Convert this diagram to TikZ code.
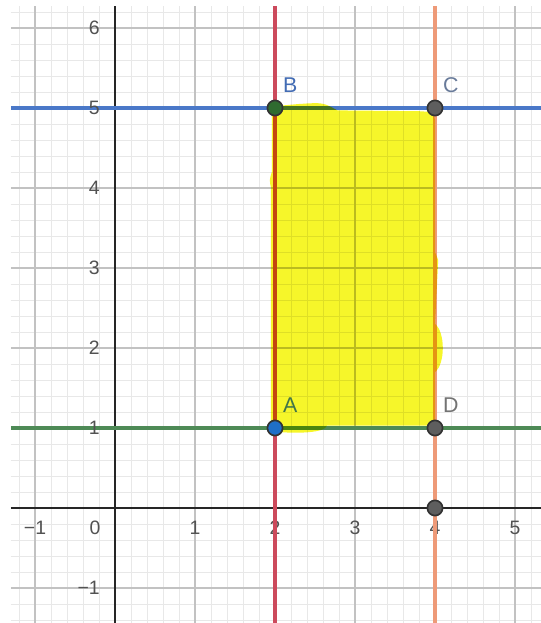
\documentclass[tikz,border=0pt]{standalone}
\usepackage{fontspec}
\setmainfont{Liberation Sans}
\usetikzlibrary{positioning}
\definecolor{lnRed}{HTML}{CC4A5C}
\definecolor{lnOrange}{HTML}{EE9A78}
\definecolor{lnBlue}{HTML}{4A78C8}
\definecolor{lnGreen}{HTML}{4E8A56}
\definecolor{hiYellow}{HTML}{F6F62A}
\definecolor{ptBlue}{HTML}{1F6FC8}
\definecolor{ptGreen}{HTML}{2F6B30}
\definecolor{ptGray}{HTML}{5E5E5E}

\begin{document}
\begin{tikzpicture}[
    minorgrid/.style={draw=black!9, line width=0.3pt},
    majorgrid/.style={draw=black!24, line width=0.45pt},
    axis/.style={draw=black!85, line width=0.7pt},
    tick/.style={font=\fontsize{6.9}{8}\selectfont, text=black!68, inner sep=1pt},
    pt/.style={circle, draw=black!80, line width=0.6pt, minimum size=0.19cm, inner sep=0pt},
    ptlabel/.style={font=\fontsize{7.6}{9}\selectfont, inner sep=0pt},
]
\useasboundingbox (-1.4375,-1.4375) rectangle (5.325,6.35);
\fill[white] (-1.4375,-1.4375) rectangle (5.325,6.35);
\draw[minorgrid, step=0.2] (-1.3,-1.4375) grid (5.325,6.28);
\draw[majorgrid, step=1] (-1.3,-1.4375) grid (5.325,6.28);
\draw[axis] (-1.3,0) -- (5.325,0);
\draw[axis] (0,-1.4375) -- (0,6.28);

\foreach \x/\t in {-1/−1, 1/1, 2/2, 3/3, 4/4, 5/5}
    \node[tick] (xt\x) at (\x,-0.25) {\t};
\node[tick] (xt0) at (-0.25,-0.25) {0};

\draw[lnRed, line width=1.1pt] (2,-1.4375) -- (2,6.28);
\draw[lnOrange, line width=1.7pt] (4,-1.4375) -- (4,6.28);
\draw[lnBlue, line width=1.1pt] (-1.3,5) -- (5.325,5);
\draw[lnGreen, line width=1.1pt] (-1.3,1) -- (5.325,1);

\foreach \y/\t in {-1/−1, 1/1, 2/2, 3/3, 4/4, 5/5, 6/6}
    \node[tick, anchor=east] (yt\y) at (-0.15,\y) {\t};

\fill[hiYellow, blend mode=multiply] (1.95,0.98) -- (1.95,4.0)
    .. controls (1.93,4.1) .. (1.96,4.2) -- (1.96,5.02) -- (2.3,5.05)
    .. controls (2.6,5.07) .. (2.78,4.97) -- (3.8,4.96)
    .. controls (3.98,4.95) .. (4.0,4.85) -- (4.0,3.2) -- (4.04,3.1) -- (4.0,2.3)
    .. controls (4.13,2.2) and (4.13,1.8) .. (4.0,1.7) -- (4.0,1.03)
    -- (2.65,1.03) .. controls (2.62,0.94) and (2.3,0.93) .. (2.05,0.95) -- cycle;

\node[pt, fill=ptBlue] (A) at (2,1) {};
\node[pt, fill=ptGreen] (B) at (2,5) {};
\node[pt, fill=ptGray] (C) at (4,5) {};
\node[pt, fill=ptGray] (D) at (4,1) {};
\node[pt, fill=ptGray] (E) at (4,0) {};

\node[ptlabel, text=lnGreen!85!black, above right=0.11cm and 0.02cm of A] (labA) {A};
\node[ptlabel, text=lnBlue!90!black, above right=0.11cm and 0.02cm of B] (labB) {B};
\node[ptlabel, text=black!45!lnBlue!70, above right=0.11cm and 0.02cm of C] (labC) {C};
\node[ptlabel, text=black!55, above right=0.11cm and 0.02cm of D] (labD) {D};
\end{tikzpicture}
\end{document}
